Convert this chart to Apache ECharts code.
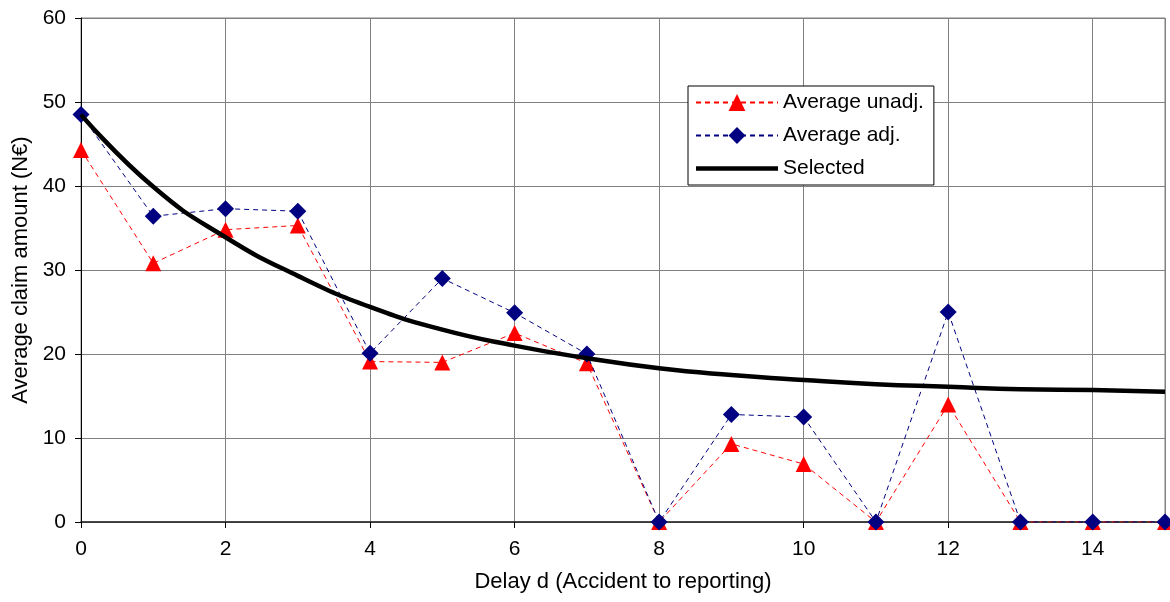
<!DOCTYPE html>
<html>
<head>
<meta charset="utf-8">
<script src="https://cdn.jsdelivr.net/npm/echarts@6/dist/echarts.min.js"></script>
<style>html,body{margin:0;padding:0;background:#fff;}#c{width:1170px;height:602px;}</style>
</head>
<body>
<div id="c"></div>
<script>
const delays = [0,1,2,3,4,5,6,7,8,9,10,11,12,13,14,15];
const avgUnadj = [44.3,30.8,34.8,35.3,19.1,19.0,22.5,18.9,0,9.3,6.9,0,14.0,0,0,0];
const avgAdj = [48.5,36.4,37.3,37.0,20.1,29.0,24.9,20.0,0,12.8,12.5,0,25.0,0,0,0];
const selected = [48.5,39.9,33.9,29.3,25.6,22.9,21.0,19.5,18.3,17.5,16.9,16.4,16.1,15.8,15.7,15.5];
const yTicks = [0,10,20,30,40,50,60];

const font = 'Liberation Sans, Arial, sans-serif';
const fs = 21;
const nfs = 22;
const pair = arr => delays.map((d,i)=>[d,arr[i]]);

const chart = echarts.init(document.getElementById('c'), null, {renderer:'canvas'});
chart.setOption({
  animation:false,
  backgroundColor:'#fff',
  textStyle:{fontFamily:font, color:'#000'},
  grid:{left:81,right:5,top:18,bottom:80,show:true,borderColor:'#808080',borderWidth:1},
  legend:{
    orient:'vertical', left:688, top:86,
    padding:[6,10,6,7], itemGap:12,
    itemWidth:82, itemHeight:21,
    borderColor:'#000', borderWidth:1, backgroundColor:'#fff',
    textStyle:{fontFamily:font,fontSize:fs,color:'#000'},
    data:[
      {name:'Average unadj.'},
      {name:'Average adj.'},
      {name:'Selected', icon:'path://M0,0L82,0L82,4.5L0,4.5Z'}
    ]
  },
  xAxis:{
    type:'value', min:0, max:15, interval:2,
    name:'Delay d (Accident to reporting)', nameLocation:'middle', nameGap:49,
    nameTextStyle:{fontFamily:font,fontSize:nfs,color:'#000'},
    axisLine:{lineStyle:{color:'#222',width:1.5}},
    axisTick:{show:true,length:6,lineStyle:{color:'#000'}},
    axisLabel:{fontFamily:font,fontSize:fs,color:'#000',margin:17,showMaxLabel:false},
    splitLine:{show:true,lineStyle:{color:'#808080',width:1}}
  },
  yAxis:{
    type:'value', min:0, max:60, interval:10,
    name:'Average claim amount (N€)', nameLocation:'middle', nameGap:49,
    nameTextStyle:{fontFamily:font,fontSize:nfs,color:'#000'},
    axisLine:{show:true,lineStyle:{color:'#000',width:1}},
    axisTick:{show:true,length:6,lineStyle:{color:'#000'}},
    axisLabel:{fontFamily:font,fontSize:fs,color:'#000',margin:15,
      formatter:v=>yTicks.includes(v)?String(v):''},
    splitLine:{show:true,lineStyle:{color:'#808080',width:1}}
  },
  series:[
    {name:'Average unadj.', type:'line', data:pair(avgUnadj),
     symbol:'triangle', symbolSize:16, z:3,
     itemStyle:{color:'#ff0000'},
     lineStyle:{color:'#ff0000',width:1,type:[5,4]}},
    {name:'Average adj.', type:'line', data:pair(avgAdj),
     symbol:'diamond', symbolSize:17, z:4,
     itemStyle:{color:'#000080'},
     lineStyle:{color:'#000080',width:1,type:[5,4]}},
    {name:'Selected', type:'line', data:pair(selected),
     symbol:'none', smooth:true, z:5,
     itemStyle:{color:'#000'},
     lineStyle:{color:'#000',width:4.5}}
  ]
});
</script>
</body>
</html>
